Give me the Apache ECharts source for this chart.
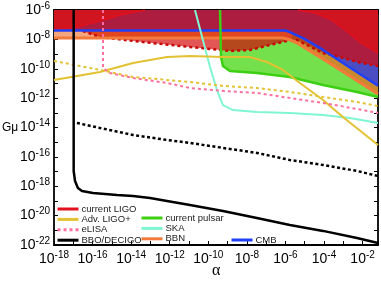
<!DOCTYPE html>
<html><head><meta charset="utf-8">
<script src="https://cdn.jsdelivr.net/npm/echarts@6/dist/echarts.min.js"></script>
<style>html,body{margin:0;padding:0;background:#fff}#c{width:381px;height:286px}</style>
</head><body><div id="c"></div>
<script>
// All values are log10 exponents: [log10(alpha), log10(G mu)]
const xLabelExps = [-18,-16,-14,-12,-10,-8,-6,-4,-2];
const yLabelExps = [-22,-20,-18,-16,-14,-12,-10,-8,-6];

const bbnLine = [[-18,-7.91],[-6.13,-7.91],[-5.77,-8.02],[-5.40,-8.25],[-4.05,-9.34],[-2.66,-10.49],[-1.2,-11.72]];
const cmbLine = [[-18,-7.40],[-6.02,-7.40],[-5.77,-7.50],[-5.09,-7.91],[-4.05,-8.72],[-3.02,-9.61],[-1.98,-10.49],[-1.2,-11.15]];
const ligoLower = [[-16.50,-7.43],[-15.62,-7.84],[-13.39,-8.18],[-10.95,-8.52],[-9.91,-8.65],[-9.39,-8.72],[-8.88,-8.79],[-7.84,-8.72],[-6.80,-8.38],[-5.92,-8.11],[-5.40,-8.04],[-4.88,-8.38],[-4.05,-8.93],[-3.17,-9.20],[-2.29,-9.54],[-1.2,-9.81]];
const ligoUpperLeft = [[-18,-7.36],[-16.81,-7.16],[-15.62,-6.75],[-14.58,-6.34],[-13.28,-6]];
const ligoUpperRight = [[-5.35,-6],[-4.47,-6.20],[-3.69,-6.61],[-2.91,-7.36],[-2.14,-8.18],[-1.2,-8.93]];
const ligoBbnBand = [[-16.5,-6],[-16.5,-7.43],[-15.5,-7.91],[-6.13,-7.91],[-5.66,-8.05],[-5.66,-6]];
const pulsarLine = [[-9.39,-6],[-9.34,-9.20],[-9.24,-9.81],[-8.88,-10.15],[-7.48,-10.29],[-5.77,-10.56],[-4.05,-11.11],[-2.29,-11.58],[-1.2,-11.92]];
const skaLine = [[-10.69,-6],[-10.28,-8.04],[-9.91,-9.88],[-9.55,-11.45],[-9.24,-12.47],[-8.72,-12.81],[-7.48,-12.94],[-5.77,-13.01],[-4.05,-13.15],[-2.66,-13.35],[-1.2,-13.69]];
const advLigoLine = [[-18,-10.77],[-15.62,-10.22],[-13.90,-9.61],[-12.14,-9.20],[-10.95,-9.13],[-9.24,-9.20],[-7.84,-9.20],[-6.96,-9.54],[-6.13,-10.08],[-5.25,-10.97],[-4.05,-12.13],[-3.02,-13.28],[-1.98,-14.37],[-1.2,-15.19]];
const advLigoAltLine = [[-18,-9.47],[-15.62,-10.08],[-13.90,-10.56],[-10.95,-10.90],[-9.24,-11.17],[-7.48,-11.31],[-5.77,-11.58],[-4.05,-11.92],[-2.29,-12.26],[-1.2,-12.54]];
const elisaLine = [[-15.46,-6],[-15.46,-9.95],[-15.10,-10.29],[-13.90,-10.63],[-12.14,-10.97],[-10.95,-11.31],[-9.24,-11.51],[-7.48,-11.65],[-5.77,-11.99],[-4.05,-12.33],[-2.29,-12.74],[-1.2,-13.01]];
const bboLine = [[-16.98,-6],[-16.98,-16.96],[-16.91,-17.64],[-16.76,-18.12],[-16.55,-18.32],[-15.98,-18.46],[-14.73,-18.59],[-13.90,-18.66],[-13.02,-18.80],[-12.14,-19.00],[-10.95,-19.27],[-9.24,-19.68],[-7.48,-20.16],[-5.77,-20.64],[-4.05,-21.04],[-2.29,-21.52],[-1.2,-21.86]];
const bboAltLine = [[-16.81,-13.69],[-15.62,-14.03],[-13.90,-14.51],[-12.14,-14.85],[-10.95,-15.05],[-9.24,-15.39],[-7.48,-15.73],[-5.77,-16.21],[-4.05,-16.55],[-2.29,-16.96],[-1.2,-17.30]];

const X0 = -18, X1 = -1.2, Y0 = -22, Y1 = -6;
const FONT = 'Liberation Sans';

// regions built from the curves
const polys = [
  {pts: [...bbnLine, [X1,Y1],[X0,Y1]], color:'#f4a67e'},
  {pts: [...pulsarLine, [X1,Y1]], color:'#74e04c'},
  {pts: [[-9.39,Y1],[-9.39,-7.91], ...bbnLine.filter(p=>p[0]>-9.39), [X1,Y1]], color:'#c98a2e'},
  {pts: [[X0,Y1],[X0,-7.40], ...ligoLower.filter(p=>p[0]<=-9.39), [-9.39,Y1]], color:'#e35656'},
  {pts: [[-9.39,Y1], ...ligoLower.filter(p=>p[0]>=-9.39), [X1,Y1]], color:'#b5491d'},
  {pts: ligoBbnBand, color:'#e2461f'},
  {pts: [...ligoUpperLeft, ...ligoUpperRight, ...cmbLine.slice().reverse()], color:'#ad1d40'},
  {pts: [[-3.69,-9.03], ...ligoLower.filter(p=>p[0]>-3.69), ...cmbLine.filter(p=>p[0]>-3.69).reverse()], color:'#4b4ec3'},
  {pts: [[X0,Y1], ...ligoUpperLeft], color:'#d01420'},
  {pts: [...ligoUpperRight, [X1,Y1]], color:'#d01420'}
];

const series = [];
polys.forEach((p,i)=>{
  series.push({
    type:'custom', coordinateSystem:'cartesian2d', silent:true, z:1+i*0.01,
    data:[p.pts[0]],
    renderItem:(params, api)=>({type:'polygon', shape:{points:p.pts.map(q=>api.coord(q))}, style:{fill:p.color}})
  });
});
function line(name, data, color, width, dash, z){
  series.push({type:'line', name:name, data:data, symbol:'none', showSymbol:false, z:z||5,
    lineStyle:{color:color, width:width, type:dash?[3,3]:'solid', cap:'butt'}, itemStyle:{color:color}});
}
line('current LIGO', ligoUpperLeft, '#e3101e', 1.5, false);
line('', ligoUpperRight, '#e3101e', 1.5, false);
line('', ligoLower, '#c80808', 2.5, true);
line('BBN', bbnLine, '#f27a3a', 3, false);
line('CMB', cmbLine, '#2040f8', 2.5, false);
line('current pulsar', pulsarLine, '#3ccf12', 2.5, false);
line('SKA', skaLine, '#80f5d2', 2, false);
line('Adv. LIGO+', advLigoLine, '#e2c232', 2, false);
line('', advLigoAltLine, '#e2c232', 2, true);
line('eLISA', elisaLine, '#ff6f9f', 2, true);
line('BBO/DECIGO', bboLine, '#000000', 2.5, false);
series.push({type:'line', name:'', data:bboAltLine, symbol:'none', z:5,
  lineStyle:{color:'#000', width:2.5, type:[3,2.5]}});

const rich = {
  b:{fontSize:14, fontFamily:FONT, color:'#000', lineHeight:18},
  s:{fontSize:10, fontFamily:FONT, color:'#000', verticalAlign:'top', lineHeight:10}
};
const fmt = list => v => list.includes(v) ? '{b|10}{s|' + v + '}' : '';
const axLine = {show:true, lineStyle:{color:'#000', width:1.8}};
const axTick = {show:true, inside:true, length:4, lineStyle:{color:'#000', width:1}};

const legendBase = {orient:'vertical', padding:0, itemGap:0.4, itemWidth:21, itemHeight:10,
  textStyle:{fontSize:9.5, fontFamily:FONT, color:'#222', lineHeight:10, padding:[0,0,0,-2]},
  lineStyle:{width:3}, itemStyle:{opacity:0, borderWidth:0}, selectedMode:false};

const chart = echarts.init(document.getElementById('c'), null, {renderer:'canvas'});
chart.setOption({
  animation:false,
  backgroundColor:'#fff',
  grid:{left:54, right:3, top:10, bottom:41},
  xAxis:[
    {type:'value', min:X0, max:X1, interval:1, position:'bottom', axisLine:axLine, axisTick:axTick, splitLine:{show:false},
     axisLabel:{margin:5, formatter:fmt(xLabelExps), rich:rich}},
    {type:'value', min:X0, max:X1, interval:1, position:'top', axisLine:axLine, axisTick:axTick, splitLine:{show:false}, axisLabel:{show:false}}
  ],
  yAxis:[
    {type:'value', min:Y0, max:Y1, interval:1, position:'left', axisLine:axLine, axisTick:axTick, splitLine:{show:false},
     axisLabel:{margin:4, formatter:fmt(yLabelExps), rich:rich}},
    {type:'value', min:Y0, max:Y1, interval:1, position:'right', axisLine:axLine, axisTick:axTick, splitLine:{show:false}, axisLabel:{show:false}}
  ],
  legend:[
    Object.assign({}, legendBase, {left:56, top:204, data:['current LIGO','Adv. LIGO+','eLISA','BBO/DECIGO']}),
    Object.assign({}, legendBase, {left:140, top:213, data:['current pulsar','SKA','BBN']}),
    Object.assign({}, legendBase, {left:230, top:235, data:['CMB']})
  ],
  graphic:[
    {type:'text', left:2, top:122, style:{text:'Gμ', fontSize:12, fontFamily:FONT, fill:'#000'}},
    {type:'text', left:212, top:263, style:{text:'α', fontSize:16, fontFamily:'Liberation Serif', fill:'#000'}}
  ],
  series:series
});
</script></body></html>
